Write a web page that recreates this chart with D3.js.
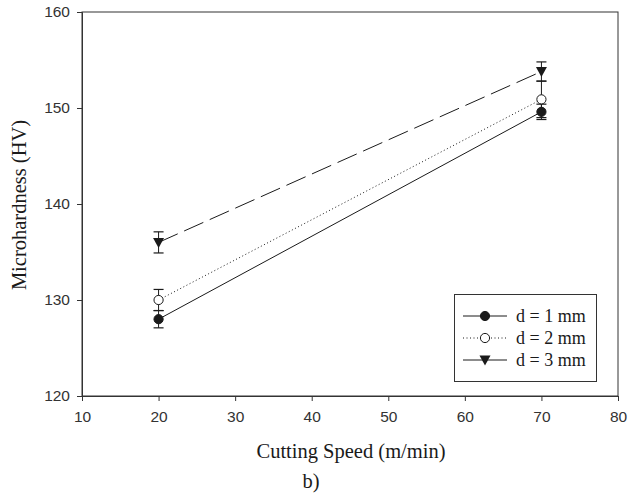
<!DOCTYPE html>
<html>
<head>
<meta charset="utf-8">
<script src="https://cdn.jsdelivr.net/npm/d3@7"></script>
<style>
  body { margin: 0; background: #fff; }
  svg { display: block; }
</style>
</head>
<body>
<div id="chart"></div>
<script>
// cutting speed (m/min)
var speeds = [20, 70];
// microhardness per depth of cut
var seriesNames = ["d = 1 mm", "d = 2 mm", "d = 3 mm"];
var hv1 = [128.0, 149.6];
var hv2 = [130.0, 150.9];
var hv3 = [136.0, 153.8];
// error bar half widths
var err1 = [0.9, 0.8];
var err2 = [1.1, 1.9];
var err3 = [1.1, 1.0];

var xTicks = [10, 20, 30, 40, 50, 60, 70, 80];
var yTicks = [120, 130, 140, 150, 160];

var width = 635, height = 497;
var margin = {left: 82, right: 17, top: 12, bottom: 101};

var svg = d3.select("#chart").append("svg")
  .attr("width", width)
  .attr("height", height);

var x = d3.scaleLinear().domain([10, 80]).range([margin.left, width - margin.right]);
var y = d3.scaleLinear().domain([120, 160]).range([height - margin.bottom, margin.top]);

var ink = "#1a1a1a";
var serif = "'Liberation Serif', 'Times New Roman', serif";

// frame
svg.append("rect")
  .attr("x", x(10)).attr("y", y(160))
  .attr("width", x(80) - x(10)).attr("height", y(120) - y(160))
  .attr("fill", "none").attr("stroke", "#333").attr("stroke-width", 1);

var xAxis = svg.append("g")
  .attr("transform", "translate(0," + y(120) + ")")
  .call(d3.axisBottom(x).tickValues(xTicks).tickSize(5).tickPadding(10));
var yAxis = svg.append("g")
  .attr("transform", "translate(" + x(10) + ",0)")
  .call(d3.axisLeft(y).tickValues(yTicks).tickSize(5).tickPadding(7));

[xAxis, yAxis].forEach(function(g) {
  g.select(".domain").attr("stroke", "#333");
  g.selectAll(".tick line").attr("stroke", "#333");
  g.selectAll("text")
    .attr("fill", "#333")
    .style("font-family", "'Liberation Sans', Arial, sans-serif")
    .style("font-size", "15.5px");
});

// axis titles
svg.append("text")
  .attr("x", 351)
  .attr("y", 458)
  .attr("text-anchor", "middle")
  .style("font-family", serif)
  .style("font-size", "20.5px")
  .attr("fill", ink)
  .text("Cutting Speed (m/min)");

svg.append("text")
  .attr("x", 311)
  .attr("y", 488)
  .attr("text-anchor", "middle")
  .style("font-family", serif)
  .style("font-size", "20.5px")
  .attr("fill", ink)
  .text("b)");

svg.append("text")
  .attr("transform", "translate(26,205) rotate(-90)")
  .attr("text-anchor", "middle")
  .style("font-family", serif)
  .style("font-size", "20.5px")
  .attr("fill", ink)
  .text("Microhardness (HV)");

var series = [
  {name: seriesNames[0], vals: hv1, err: err1, dash: null, marker: "filled"},
  {name: seriesNames[1], vals: hv2, err: err2, dash: "1,2.5", marker: "open"},
  {name: seriesNames[2], vals: hv3, err: err3, dash: "21,7", marker: "tri"}
];

var line = d3.line()
  .x(function(d) { return x(d.s); })
  .y(function(d) { return y(d.v); });

function pts(s) {
  return speeds.map(function(sp, i) { return {s: sp, v: s.vals[i], e: s.err[i]}; });
}

// lines
series.forEach(function(s) {
  svg.append("path")
    .datum(pts(s))
    .attr("d", line)
    .attr("fill", "none")
    .attr("stroke", ink)
    .attr("stroke-width", 1)
    .attr("stroke-dasharray", s.dash);
});

// error bars
series.forEach(function(s) {
  var g = svg.append("g").selectAll("g").data(pts(s)).enter().append("g");
  g.append("line")
    .attr("x1", function(d) { return x(d.s); }).attr("x2", function(d) { return x(d.s); })
    .attr("y1", function(d) { return y(d.v - d.e); }).attr("y2", function(d) { return y(d.v + d.e); })
    .attr("stroke", ink);
  [-1, 1].forEach(function(k) {
    g.append("line")
      .attr("x1", function(d) { return x(d.s) - 5; }).attr("x2", function(d) { return x(d.s) + 5; })
      .attr("y1", function(d) { return y(d.v + k * d.e); }).attr("y2", function(d) { return y(d.v + k * d.e); })
      .attr("stroke", ink).attr("stroke-width", 1.2);
  });
});

function drawMarker(g, type, cx, cy) {
  if (type === "tri") {
    g.append("path")
      .attr("d", "M" + (cx - 5.5) + "," + (cy - 4.5) + "L" + (cx + 5.5) + "," + (cy - 4.5) + "L" + cx + "," + (cy + 5.5) + "Z")
      .attr("fill", ink);
  } else {
    g.append("circle")
      .attr("cx", cx).attr("cy", cy).attr("r", 4.6)
      .attr("fill", type === "filled" ? ink : "#fff")
      .attr("stroke", ink).attr("stroke-width", 1);
  }
}

// markers
series.forEach(function(s) {
  pts(s).forEach(function(d) {
    drawMarker(svg, s.marker, x(d.s), y(d.v));
  });
});

// legend
var lg = svg.append("g");
lg.append("rect")
  .attr("x", 454.5).attr("y", 294.5).attr("width", 142).attr("height", 87)
  .attr("fill", "#fff").attr("stroke", "#333");
series.forEach(function(s, i) {
  var ly = 316 + i * 22;
  lg.append("line")
    .attr("x1", 463).attr("x2", 507).attr("y1", ly).attr("y2", ly)
    .attr("stroke", ink)
    .attr("stroke-dasharray", s.marker === "open" ? "1,2.5" : null);
  drawMarker(lg, s.marker, 485, ly);
  lg.append("text")
    .attr("x", 516).attr("y", ly + 5.5)
    .style("font-family", serif)
    .style("font-size", "18px")
    .attr("fill", ink)
    .text(s.name);
});
</script>
</body>
</html>
